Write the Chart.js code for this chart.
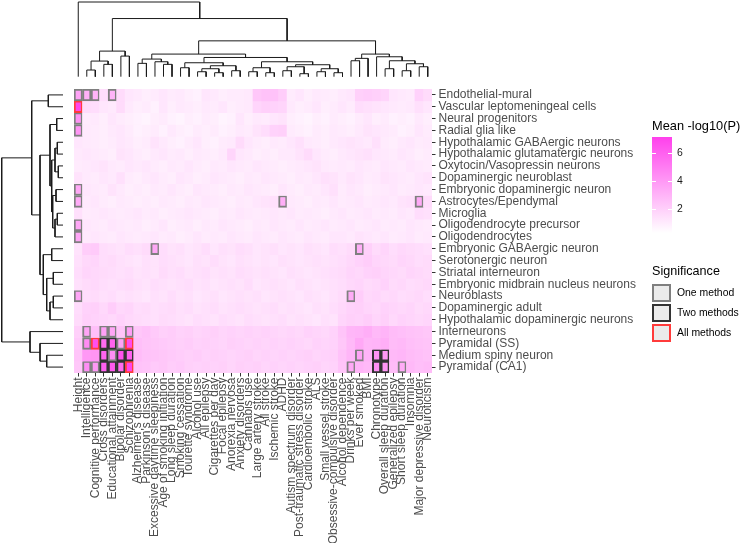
<!DOCTYPE html>
<html>
<head>
<meta charset="utf-8">
<script src="https://cdn.jsdelivr.net/npm/chart.js@4.4.1/dist/chart.umd.min.js"></script>
<style>
  body { margin: 0; background: #fff; width: 740px; height: 543px; overflow: hidden; position: relative;
         font-family: "Liberation Sans", Arial, sans-serif; color: #000; }
  canvas { position: absolute; }
  .lg { position: absolute; white-space: nowrap; line-height: 1.15; }
  .key { position: absolute; left: 652px; width: 15px; height: 14px; background: #ebebeb; border: 2px solid; }
  .tk { position: absolute; width: 4px; height: 1px; background: #fff; }
</style>
</head>
<body>
<canvas id="heat" width="740" height="543"></canvas>
<canvas id="dendTop" width="358" height="80" style="left:74px;top:0px"></canvas>
<canvas id="dendLeft" width="66" height="284" style="left:0px;top:89px"></canvas>

<div class="lg" style="left:652px;top:119px;font-size:12.8px">Mean -log10(P)</div>
<div id="bar" style="position:absolute;left:652px;top:137px;width:20px;height:96px"></div>
<div class="lg" style="left:677px;top:147px;font-size:10.4px;color:#1a1a1a">6</div>
<div class="lg" style="left:677px;top:175px;font-size:10.4px;color:#1a1a1a">4</div>
<div class="lg" style="left:677px;top:203px;font-size:10.4px;color:#1a1a1a">2</div>
<div class="lg" style="left:652px;top:264px;font-size:12.6px">Significance</div>
<div class="key" style="top:284px;border-color:#7f7f7f"></div>
<div class="key" style="top:304px;border-color:#333333"></div>
<div class="key" style="top:324px;border-color:#ff3b3b"></div>
<div class="lg" style="left:677px;top:287px;font-size:10.4px">One method</div>
<div class="lg" style="left:677px;top:307px;font-size:10.4px">Two methods</div>
<div class="lg" style="left:677px;top:327px;font-size:10.4px">All methods</div>

<script>
const traits = ["Height", "Intelligence", "Cognitive performance", "Cross disorders", "Educational attainment",
  "Bipolar disorder", "Schizophrenia", "Alzheimer's disease", "Parkinson's disease", "Excessive daytime sleepiness",
  "Age of smoking initiation", "Long sleep duration", "Smoking cessation", "Tourette syndrome", "Alcohol use",
  "All epilepsy", "Cigarettes per day", "Focal epilepsy", "Anorexia nervosa", "Anxiety disorders", "Cannabis use",
  "Large artery stroke", "All stroke", "Ischemic stroke", "ADHD", "Autism spectrum disorder",
  "Post-traumatic stress disorder", "Cardioembolic stroke", "ALS", "Small vessel stroke",
  "Obsessive-compulsive disorder", "Alcohol dependence", "Drinks per week", "Ever smoked", "BMI", "Chronotype",
  "Overall sleep duration", "Generalized epilepsy", "Short sleep duration", "Insomnia",
  "Major depressive disorder", "Neuroticism"];

const cellTypes = ["Endothelial-mural", "Vascular leptomeningeal cells", "Neural progenitors", "Radial glia like",
  "Hypothalamic GABAergic neurons", "Hypothalamic glutamatergic neurons", "Oxytocin/Vasopressin neurons",
  "Dopaminergic neuroblast", "Embryonic dopaminergic neuron", "Astrocytes/Ependymal", "Microglia",
  "Oligodendrocyte precursor", "Oligodendrocytes", "Embryonic GABAergic neuron", "Serotonergic neuron",
  "Striatal interneuron", "Embryonic midbrain nucleus neurons", "Neuroblasts", "Dopaminergic adult",
  "Hypothalamic dopaminergic neurons", "Interneurons", "Pyramidal (SS)", "Medium spiny neuron", "Pyramidal (CA1)"];

// mean -log10(P), one row per cell type, columns in trait order
const meanLogP = [
  [3.6,3.1,3.0,1.5,3.0,1.6,1.2, 1.1,0.9,1.0,1.2,1.0,1.1,0.9,0.8,1.2,1.1,0.9,1.0,1.0,1.1, 2.3,2.5,2.5,2.1, 1.0,1.2,0.9,1.1,1.0,0.9, 1.1,1.2,2.0,2.1,2.0,1.8,1.2,1.1,1.0,1.9,1.6],
  [6.9,1.6,1.5,1.2,1.1,1.6,1.1, 0.9,1.0,0.8,1.2,0.9,1.1,1.0,0.9,1.1,1.0,1.2,0.9,1.0,1.1, 1.8,2.0,1.9,1.8, 1.1,0.9,1.0,1.2,0.9,1.0, 1.2,1.0,1.5,1.4,1.3,1.2,1.1,1.0,1.1,1.4,1.2],
  [4.2,1.0,1.1,0.9,1.2,1.0,0.9, 0.8,0.7,0.9,1.0,0.8,0.7,0.9,0.8,1.0,0.9,0.7,0.8,1.2,0.9, 1.1,1.0,1.2,1.3, 0.9,0.8,0.7,0.9,0.8,1.0, 0.9,0.8,1.0,1.2,0.9,1.0,0.8,0.9,0.8,1.1,0.9],
  [4.1,1.1,1.0,0.9,1.1,1.2,1.0, 0.8,0.9,1.0,0.8,1.1,0.9,0.8,1.0,0.9,1.0,0.8,0.9,1.1,1.0, 1.3,1.5,1.9,2.0, 1.0,0.9,0.8,1.0,0.9,1.1, 1.0,0.9,1.1,1.3,1.2,1.1,1.0,0.8,0.9,1.2,1.0],
  [1.2,1.1,1.0,0.9,1.0,1.2,1.1, 0.9,1.0,1.3,1.1,0.9,0.8,1.0,1.2,0.9,0.8,1.0,1.1,1.6,1.2, 1.0,0.9,1.1,1.0, 1.2,1.4,1.1,1.0,0.9,1.1, 1.2,1.3,1.2,1.1,1.4,1.0,0.9,1.1,1.2,1.0,1.1],
  [1.1,1.2,1.1,1.0,0.9,1.3,1.2, 1.0,0.9,1.1,1.2,1.0,1.1,0.9,1.1,1.0,0.9,1.1,1.8,1.2,1.1, 0.9,1.0,0.9,1.1, 1.1,1.3,1.6,1.2,1.0,0.9, 1.1,1.2,1.3,1.4,1.2,1.1,1.0,1.2,1.1,0.9,1.0],
  [1.0,1.1,1.2,1.3,1.1,1.0,1.2, 1.1,1.2,1.0,0.9,1.1,1.0,1.2,1.0,0.9,1.1,1.0,1.2,1.1,1.0, 1.2,1.1,1.0,0.9, 1.0,1.1,1.2,1.3,1.1,1.0, 1.1,1.0,1.2,1.1,1.0,1.2,1.1,1.0,1.2,1.1,1.0],
  [1.3,1.1,1.0,1.2,1.1,1.4,1.0, 0.9,1.1,1.2,1.0,0.9,1.2,1.1,0.9,1.0,1.2,1.1,1.0,0.9,1.1, 1.0,1.2,1.1,1.0, 0.9,1.1,1.0,1.2,1.4,1.3, 1.1,1.3,1.2,1.0,1.1,1.3,1.2,1.1,1.0,1.2,1.3],
  [3.4,1.2,1.1,1.0,1.3,1.1,0.9, 1.0,0.9,1.1,1.0,1.2,1.0,0.9,1.2,1.1,1.0,0.9,1.1,1.0,1.2, 1.1,1.0,0.9,1.2, 1.0,0.9,1.1,1.0,1.2,1.4, 1.0,1.2,1.1,0.9,1.0,1.1,1.2,1.0,1.1,1.2,1.1],
  [3.3,1.1,1.2,1.0,0.9,1.1,1.0, 0.9,1.0,0.9,1.1,1.0,0.9,1.1,1.0,1.2,1.1,1.0,0.9,1.1,1.0, 1.2,1.3,1.4,3.2, 1.1,1.0,0.9,1.1,1.0,1.2, 1.0,1.1,1.2,1.0,1.1,1.2,1.1,1.3,1.4,3.4,1.6],
  [1.4,1.0,1.1,1.2,1.1,1.0,1.1, 1.2,1.0,1.1,0.9,1.0,1.1,1.2,1.1,1.0,0.9,1.1,1.0,1.2,1.1, 1.0,1.1,1.2,1.1, 1.2,1.0,1.1,1.0,0.9,1.1, 1.2,1.0,1.1,1.2,1.0,1.1,1.0,1.2,1.1,1.5,1.4],
  [3.4,1.2,1.1,1.0,1.2,1.1,1.0, 1.1,0.9,1.0,1.2,0.9,1.0,1.1,0.9,1.1,1.0,1.2,1.1,1.0,0.9, 1.1,1.0,1.2,1.1, 1.0,1.2,1.0,1.1,1.2,1.0, 1.1,1.2,1.0,1.1,1.2,1.0,1.1,1.0,1.2,1.1,1.0],
  [3.5,1.1,1.2,1.1,1.0,1.2,1.1, 1.0,1.1,1.2,1.0,1.1,0.9,1.0,1.2,1.0,1.1,1.0,1.2,1.1,1.0, 1.2,1.1,1.0,1.2, 1.1,1.0,1.2,1.1,1.0,1.2, 1.2,1.1,1.3,1.2,1.1,1.2,1.0,1.1,1.2,1.0,1.1],
  [1.3,2.1,2.2,1.5,1.4,1.3,1.5, 1.4,1.6,3.4,1.5,1.3,1.4,1.2,1.3,1.5,1.2,1.4,1.3,1.5,1.4, 1.2,1.3,1.4,1.2, 1.3,1.2,1.4,1.3,1.2,1.5, 1.4,1.6,3.2,2.0,1.6,1.8,1.5,1.7,1.6,1.5,1.4],
  [1.4,1.7,1.8,1.5,1.6,1.4,1.3, 1.2,1.4,1.3,1.5,1.4,1.3,1.2,1.4,1.3,1.5,1.3,1.2,1.4,1.3, 1.2,1.3,1.2,1.4, 1.3,1.2,1.3,1.4,1.3,1.4, 1.5,1.7,1.9,2.1,1.8,1.7,1.6,1.8,1.7,1.5,1.6],
  [1.5,1.8,1.7,1.6,1.5,1.4,1.5, 1.3,1.4,1.3,1.6,1.4,1.5,1.3,1.4,1.5,1.3,1.4,1.3,1.5,1.4, 1.3,1.4,1.3,1.2, 1.4,1.3,1.2,1.3,1.4,1.5, 1.6,1.8,1.7,1.9,2.0,1.8,1.7,1.6,1.8,1.7,1.6],
  [1.4,1.6,1.7,1.5,1.4,1.5,1.6, 1.4,1.3,1.5,1.4,1.3,1.4,1.5,1.3,1.4,1.2,1.3,1.4,1.3,1.5, 1.2,1.3,1.4,1.3, 1.2,1.4,1.3,1.2,1.3,1.4, 1.5,1.7,1.8,1.6,1.7,1.9,1.6,1.7,1.5,1.6,1.7],
  [3.5,1.5,1.6,1.4,1.5,1.3,1.4, 1.3,1.2,1.4,1.3,1.5,1.3,1.4,1.2,1.3,1.4,1.2,1.3,1.4,1.3, 1.4,1.2,1.3,1.4, 1.3,1.2,1.4,1.3,1.2,1.4, 1.6,3.3,2.1,1.7,1.8,1.6,1.7,1.5,1.6,1.7,1.5],
  [1.5,1.9,2.0,1.7,2.1,1.7,1.8, 1.5,1.6,1.4,1.5,1.6,1.4,1.5,1.3,1.4,1.5,1.3,1.4,1.5,1.4, 1.3,1.4,1.5,1.3, 1.4,1.3,1.2,1.4,1.3,1.5, 1.7,1.9,2.0,1.8,1.7,1.9,1.8,1.7,1.8,1.6,1.7],
  [1.6,2.0,1.9,1.8,1.7,1.9,1.7, 1.6,1.5,1.4,1.6,1.5,1.4,1.3,1.5,1.4,1.3,1.5,1.4,1.3,1.5, 1.4,1.3,1.4,1.5, 1.3,1.4,1.3,1.2,1.4,1.3, 1.8,2.0,1.9,2.1,1.8,2.0,1.7,1.9,1.8,1.7,1.8],
  [2.0,3.6,2.6,3.7,3.5,2.4,3.8, 2.3,2.5,2.2,2.0,2.1,1.9,2.0,1.8,1.9,2.0,1.8,1.9,1.8,1.9, 1.8,1.9,1.8,1.7, 1.8,1.7,1.9,1.8,1.7,1.9, 2.4,2.9,3.0,3.2,2.8,3.0,2.7,2.6,2.5,2.4,2.3],
  [2.2,4.5,6.6,5.6,5.9,3.6,6.7, 2.6,2.4,2.3,2.2,2.1,2.0,2.1,1.9,2.0,1.9,1.8,2.0,1.9,1.8, 1.9,1.8,1.9,1.8, 1.9,1.8,1.7,1.9,1.8,1.9, 2.3,2.8,3.4,2.9,3.0,3.2,2.7,2.8,2.6,2.5,2.4],
  [2.4,4.0,4.1,5.8,4.3,6.5,6.0, 2.7,2.5,2.4,2.3,2.2,2.1,2.0,2.1,1.9,2.0,1.9,1.8,1.9,2.0, 1.8,1.9,1.8,1.9, 1.8,1.9,2.0,1.8,1.9,2.0, 2.5,2.9,3.6,3.0,4.2,4.0,2.8,2.9,2.7,2.6,2.5],
  [2.3,4.4,4.0,6.0,6.2,5.6,7.0, 2.5,2.4,2.2,2.3,2.1,2.2,2.0,1.9,2.0,1.9,2.0,1.8,2.0,1.9, 2.0,1.8,1.9,1.8, 1.9,1.8,1.9,2.0,1.8,1.9, 2.4,3.4,3.0,2.8,4.3,4.1,2.7,3.3,2.8,2.6,2.7]
];

// significant cells: [row, column, level] with 1 = one method, 2 = two methods, 3 = all methods
const significance = [
  [0,0,1],[0,1,1],[0,2,1],[0,4,1],[1,0,3],[2,0,1],[3,0,1],
  [8,0,1],[9,0,1],[9,24,1],[9,40,1],[11,0,1],[12,0,1],
  [13,9,1],[13,33,1],[17,0,1],[17,32,1],
  [20,1,1],[20,3,1],[20,4,1],[20,6,1],
  [21,1,1],[21,2,3],[21,3,2],[21,4,2],[21,5,1],[21,6,3],
  [22,3,2],[22,4,1],[22,5,2],[22,6,2],[22,33,1],[22,35,2],[22,36,2],
  [23,1,1],[23,2,1],[23,3,2],[23,4,2],[23,5,2],[23,6,3],[23,32,1],[23,35,2],[23,36,2],[23,38,1]
];

// dendrogram merges, scipy style: index < n is a leaf, index >= n is merge (index - n)
const traitMerges = [
  [1,2,6.7],[3,4,12.4],[42,43,15.7],[5,6,20.7],[44,45,25.7],
  [7,8,13.4],[10,11,12.4],[9,48,15],[47,49,17.7],
  [12,13,9],[14,15,5],[16,17,4],[52,53,8],[18,19,6],[54,55,11],[51,56,14],
  [20,21,5],[22,23,4],[58,59,9],[24,25,6],[26,27,3],[61,62,10],[28,29,5],[30,31,4],[64,65,8],[63,66,12],[60,67,15],
  [57,68,19.3],[50,69,22.7],
  [32,33,16],[71,34,18.4],[36,37,8],[38,39,6],[40,41,10],[74,75,13],[73,76,16],[35,77,20],[72,78,22.7],
  [70,79,36],[46,80,58.4],[0,81,75]
];
const cellMerges = [
  [0,1,14.7],[2,3,6.3],[4,5,5.7],[6,7,4.7],[26,27,8],[8,9,7],[10,11,5.7],[30,12,8],[29,31,10.3],[28,32,11.3],
  [25,33,13],[13,14,11.3],[15,16,9.7],[17,18,9.7],[37,19,13],[36,38,16.3],[35,39,19.7],[34,40,23],[24,41,31.3],
  [22,23,16.3],[21,43,23],[20,44,33],[42,45,61.3]
];

const vMin = 0.3, vMax = 7.14;
function fillColor(v) {
  const t = Math.max(0, Math.min(1, (v - vMin) / (vMax - vMin)));
  const g = Math.round(255 - t * (255 - 64));
  const b = Math.round(255 - t * (255 - 236));
  return `rgb(255,${g},${b})`;
}
document.getElementById('bar').style.background =
  `linear-gradient(to top, ${fillColor(vMin)}, ${fillColor((vMin + vMax) / 2)}, ${fillColor(vMax)})`;
// white ticks on the colour bar
[6, 4, 2].forEach(v => {
  const y = 137 + (vMax - v) / (vMax - vMin) * 96;
  ['652px', '668px'].forEach(x => {
    const d = document.createElement('div');
    d.className = 'tk';
    d.style.left = x;
    d.style.top = y + 'px';
    document.body.appendChild(d);
  });
});

const sigColors = [null, '#7f7f7f', '#333333', '#ff3b3b'];
const sigLevel = meanLogP.map(row => row.map(() => 0));
significance.forEach(([r, c, l]) => { sigLevel[r][c] = l; });

// heatmap as floating bars, one dataset per cell type row
const heatSets = cellTypes.map((name, r) => ({
  label: name,
  data: traits.map(() => [r, r + 1]),
  backgroundColor: meanLogP[r].map(fillColor),
  borderColor: sigLevel[r].map(l => sigColors[l] || 'rgba(0,0,0,0)'),
  borderWidth: sigLevel[r].map(l => l ? 2 : 0),
  borderSkipped: false,
  grouped: false,
  barPercentage: 1,
  categoryPercentage: 1
}));

new Chart(document.getElementById('heat'), {
  type: 'bar',
  data: { labels: traits, datasets: heatSets },
  options: {
    responsive: false,
    animation: false,
    layout: { padding: { left: 74, top: 89, right: 0, bottom: 0 } },
    plugins: { legend: { display: false }, tooltip: { enabled: false } },
    scales: {
      x: {
        type: 'category',
        offset: true,
        afterFit: s => { s.height = 170; },
        grid: { drawOnChartArea: false, offset: false, tickLength: 3.5, color: '#333', lineWidth: 1 },
        border: { display: false },
        ticks: { autoSkip: false, maxRotation: 90, minRotation: 90, padding: 1,
                 color: '#4d4d4d', font: { size: 12, family: '"Liberation Sans", Arial, sans-serif' } }
      },
      y: {
        type: 'linear',
        position: 'right',
        min: 0, max: 24, reverse: true,
        afterFit: s => { s.width = 308; },
        afterBuildTicks: s => { s.ticks = cellTypes.map((_, i) => ({ value: i + 0.5 })); },
        grid: { drawOnChartArea: false, tickLength: 3.5, color: '#333', lineWidth: 1 },
        border: { display: false },
        ticks: { autoSkip: false, padding: 3, color: '#4d4d4d',
                 font: { size: 12, family: '"Liberation Sans", Arial, sans-serif' },
                 callback: (v, i) => cellTypes[i] }
      }
    }
  }
});

// turn merges into elbow segments (position along leaves, height)
function dendroSegments(merges, n) {
  const pos = [], hgt = [];
  for (let i = 0; i < n; i++) { pos[i] = i; hgt[i] = 0; }
  return merges.map(([a, b, h], m) => {
    pos[n + m] = (pos[a] + pos[b]) / 2;
    hgt[n + m] = h;
    return [[pos[a], hgt[a]], [pos[a], h], [pos[b], h], [pos[b], hgt[b]]];
  });
}

const lineStyle = { showLine: true, borderColor: '#1a1a1a', borderWidth: 1, pointRadius: 0, clip: false, fill: false };

new Chart(document.getElementById('dendTop'), {
  type: 'scatter',
  data: {
    datasets: dendroSegments(traitMerges, traits.length).map(seg => ({
      ...lineStyle, data: seg.map(([p, h]) => ({ x: p, y: h }))
    }))
  },
  options: {
    responsive: false, animation: false,
    layout: { padding: { top: 2, bottom: 3.3, left: 0, right: 0 } },
    plugins: { legend: { display: false }, tooltip: { enabled: false } },
    scales: {
      x: { type: 'linear', min: -0.5, max: traits.length - 0.5, display: false },
      y: { type: 'linear', min: 0, max: 75, display: false }
    }
  }
});

new Chart(document.getElementById('dendLeft'), {
  type: 'scatter',
  data: {
    datasets: dendroSegments(cellMerges, cellTypes.length).map(seg => ({
      ...lineStyle, data: seg.map(([p, h]) => ({ x: h, y: p }))
    }))
  },
  options: {
    responsive: false, animation: false,
    layout: { padding: { top: 0, bottom: 0, left: 1.7, right: 3 } },
    plugins: { legend: { display: false }, tooltip: { enabled: false } },
    scales: {
      x: { type: 'linear', min: 0, max: 61.3, reverse: true, display: false },
      y: { type: 'linear', min: -0.5, max: cellTypes.length - 0.5, reverse: true, display: false }
    }
  }
});
</script>
</body>
</html>
